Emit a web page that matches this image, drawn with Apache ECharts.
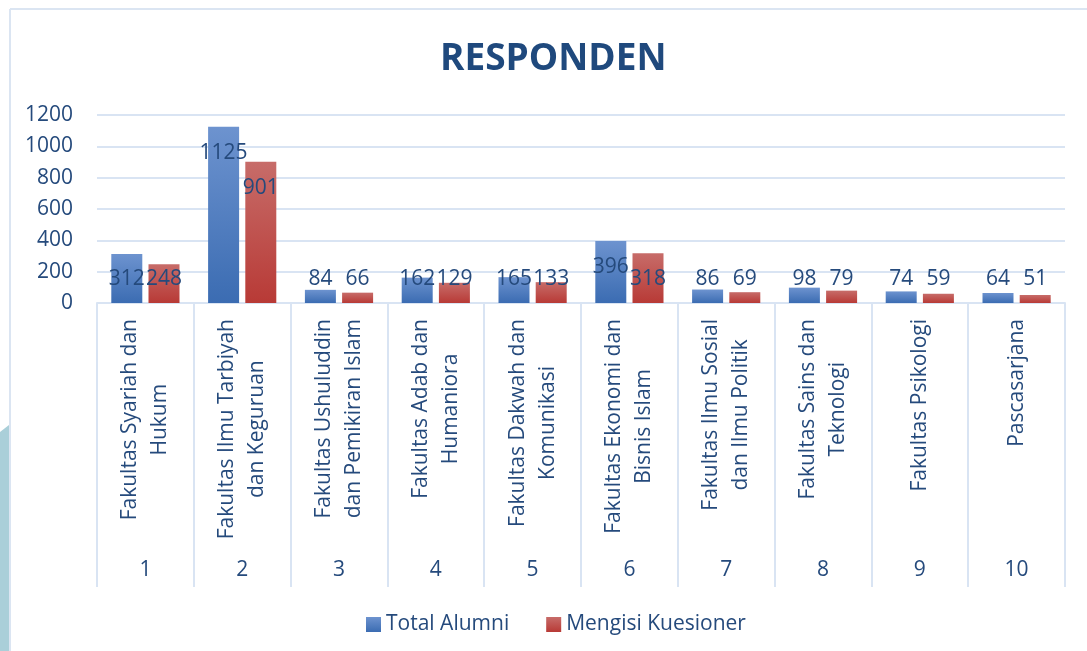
<!DOCTYPE html>
<html>
<head>
<meta charset="utf-8">
<script src="https://cdn.jsdelivr.net/npm/echarts@6/dist/echarts.min.js"></script>
<style>
  html, body { margin: 0; padding: 0; background: #fff; }
  #chart { width: 1087px; height: 651px; }
</style>
</head>
<body>
<div id="chart"></div>
<script>
// data
const faculties = [
    'Fakultas Syariah dan\nHukum',
    'Fakultas Ilmu Tarbiyah\ndan Keguruan',
    'Fakultas Ushuluddin\ndan Pemikiran Islam',
    'Fakultas Adab dan\nHumaniora',
    'Fakultas Dakwah dan\nKomunikasi',
    'Fakultas Ekonomi dan\nBisnis Islam',
    'Fakultas Ilmu Sosial\ndan Ilmu Politik',
    'Fakultas Sains dan\nTeknologi',
    'Fakultas Psikologi',
    'Pascasarjana'
];
const numbers = ['1', '2', '3', '4', '5', '6', '7', '8', '9', '10'];
const totalAlumni = [312, 1125, 84, 162, 165, 396, 86, 98, 74, 64];
const mengisi = [248, 901, 66, 129, 133, 318, 69, 79, 59, 51];

const navy = '#254a7c';
const lightLine = '#d9e4f3';
const font = 'Open Sans';

// excel puts the label inside the end of the bar, but keeps it off the axis for short bars
function withLabels(values) {
    return values.map(v => ({
        value: v,
        label: v > 330
            ? {position: 'insideTop', distance: 16}
            : {position: 'insideBottom', distance: 13}
    }));
}

function grad(top, bottom) {
    return new echarts.graphic.LinearGradient(0, 0, 0, 1, [
        {offset: 0, color: top},
        {offset: 1, color: bottom}
    ]);
}

const barLabel = {
    show: true,
    color: navy,
    fontFamily: font,
    fontSize: 21
};

let ec = echarts.init(document.getElementById('chart'));
let option = {
    backgroundColor: '#fff',
    animation: false,
    title: {
        text: 'RESPONDEN',
        left: 440,
        top: 41,
        padding: 0,
        textStyle: {
            color: '#1f497d',
            fontFamily: font,
            fontWeight: 'bold',
            fontSize: 37
        }
    },
    graphic: [
        {type: 'line', shape: {x1: 10, y1: 9, x2: 1087, y2: 9}, style: {stroke: '#dbe5f2', lineWidth: 2}},
        {type: 'line', shape: {x1: 10, y1: 9, x2: 10, y2: 651}, style: {stroke: '#dbe5f2', lineWidth: 2}},
        {type: 'polygon', shape: {points: [[0, 432], [9, 425], [9, 651], [0, 651]]}, style: {fill: '#aacfd9'}}
    ],
    legend: {
        top: 609,
        left: 361,
        itemWidth: 15,
        itemHeight: 15,
        itemGap: 37,
        icon: 'rect',
        textStyle: {color: navy, fontFamily: font, fontSize: 21},
        data: ['Total Alumni', 'Mengisi Kuesioner']
    },
    grid: {left: 97, right: 22, top: 115, bottom: 348},
    xAxis: [{
        type: 'category',
        data: faculties,
        axisLine: {lineStyle: {color: lightLine, width: 2}},
        axisTick: {show: true, length: 284, lineStyle: {color: lightLine, width: 2}},
        axisLabel: {
            rotate: 90,
            margin: 16,
            interval: 0,
            color: navy,
            fontFamily: font,
            fontSize: 21,
            lineHeight: 30,
            formatter: (v) => v.split('\n').map(l => '{c|' + l + '}').join('\n'),
            rich: {c: {align: 'center', color: navy, fontFamily: font, fontSize: 21, lineHeight: 30}}
        }
    }, {
        type: 'category',
        data: numbers,
        position: 'bottom',
        axisLine: {show: false},
        axisTick: {show: false},
        axisLabel: {margin: 257, interval: 0, color: navy, fontFamily: font, fontSize: 21}
    }],
    yAxis: {
        type: 'value',
        min: 0,
        max: 1200,
        interval: 200,
        axisLine: {show: false},
        axisTick: {show: false},
        axisLabel: {margin: 24, color: navy, fontFamily: font, fontSize: 21, formatter: (v) => String(v)},
        splitLine: {lineStyle: {color: lightLine, width: 2}}
    },
    series: [{
        name: 'Total Alumni',
        type: 'bar',
        barWidth: 31,
        barGap: '20%',
        itemStyle: {color: grad('#6d93cf', '#3b6cb2')},
        label: barLabel,
        data: withLabels(totalAlumni)
    }, {
        name: 'Mengisi Kuesioner',
        type: 'bar',
        barWidth: 31,
        barGap: '20%',
        itemStyle: {color: grad('#c76c69', '#b83a36')},
        label: barLabel,
        data: withLabels(mengisi)
    }]
};
ec.setOption(option);
</script>
</body>
</html>
